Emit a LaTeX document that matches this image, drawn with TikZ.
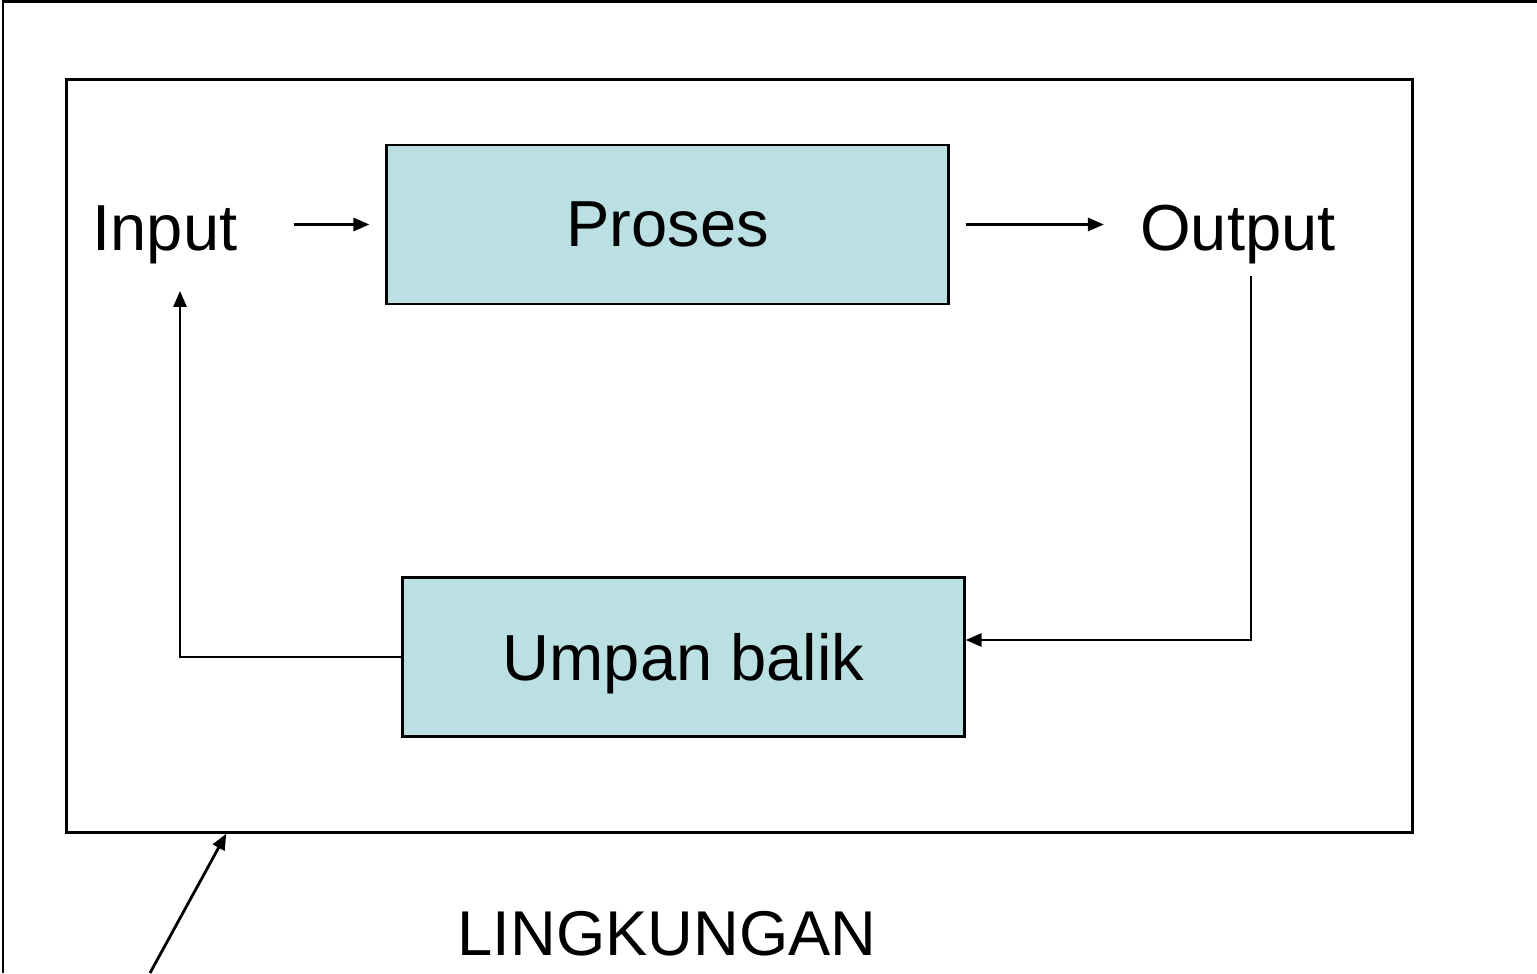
\documentclass[tikz,border=0pt]{standalone}
\usepackage{fontspec}
\setmainfont{Liberation Sans}
\usepackage{tikz}
\usetikzlibrary{arrows.meta}
\definecolor{boxblue}{RGB}{187,224,227}

\begin{document}
\begin{tikzpicture} [x=0.01cm,y=-0.01cm,
    thick,
    label/.style={inner sep=0pt,anchor=base,font=\fontsize{18.5}{22}\selectfont},
    blok/.style={draw,fill=boxblue,inner sep=0pt,minimum width=5.61cm,
      minimum height=1.59cm,text depth=0pt,font=\fontsize{18.5}{22}\selectfont},
    pfeil/.style={-{Triangle[length=1.6mm,width=1.3mm]}}]
    \useasboundingbox (0,0) rectangle (1537,973);

    % frame of the environment
    \draw (3,973) -- (3,1.5) -- (1537,1.5);
    \node[draw,minimum width=13.45cm,minimum height=7.52cm] (sistem) at (739.5,456) {};

    \node[label] (input) at (165,250) {Input};
    \node[label] (output) at (1238,250) {Output};
    \node[blok] (proses) at (667.5,224.5) {Proses};
    \node[blok] (umpan) at (683.5,657) {Umpan balik};
    \node[label,font=\fontsize{18}{22}\selectfont] (lingkungan) at (667,955) {LINGKUNGAN};
    \coordinate (ekor) at (150,973);

      \draw[pfeil,shorten <=0.55cm,shorten >=0.16cm] (input.east |- proses.west) -- (proses.west);
      \draw[pfeil,shorten <=0.16cm,shorten >=0.35cm] (proses.east) -- (output.west |- proses.east);

      \draw[pfeil] ([xshift=0.13cm,yshift=-0.11cm]output.south) |- ([yshift=0.17cm]umpan.east);
      \draw[pfeil,shorten >=0.26cm] (umpan.west) -| ([xshift=0.15cm]input.south);

      \draw[pfeil] (ekor) -- ([xshift=1.61cm]sistem.south west);
    \end{tikzpicture}
\end{document}
